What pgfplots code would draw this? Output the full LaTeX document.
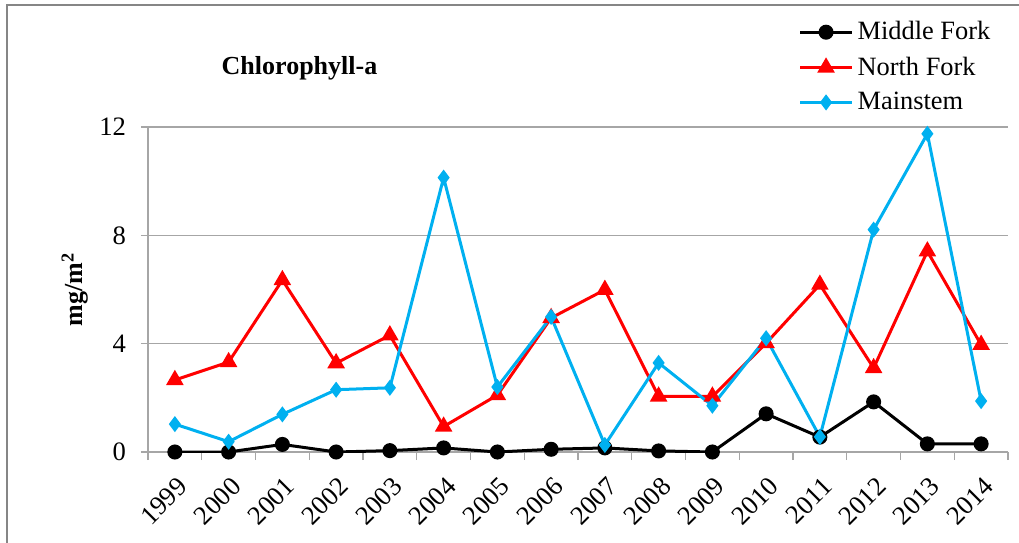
\documentclass[border=0pt]{standalone}
\usepackage{pgfplots}
\pgfplotsset{compat=1.18}
\usepackage{fontspec}
\setmainfont{Liberation Serif}

\begin{document}
\begin{tikzpicture}

\definecolor{msblue}{RGB}{0,176,240}
\definecolor{gridgray}{RGB}{166,166,166}
\definecolor{framegray}{RGB}{134,134,134}

% page = 1019x542 px at 0.5pt per px, axis origin at px (148,452)
\clip (-74pt,-45pt) rectangle (435.5pt,226pt);
\draw[framegray, line width=1.3pt] (-70.5pt,-80pt) rectangle (460pt,223.5pt);

\begin{axis}[
at={(0pt,0pt)}, anchor=south west,
width=430pt,
height=162.5pt,
scale only axis,
xmin=-0.5, xmax=15.5,
ymin=0, ymax=12,
xtick={0,...,15},
xticklabels={1999,2000,2001,2002,2003,2004,2005,2006,2007,2008,2009,2010,2011,2012,2013,2014},
minor xtick={-0.5,0.5,...,15.5},
major x tick style={draw=none},
ytick={0,4,8,12},
axis x line*=bottom,
axis y line*=left,
axis line style={gridgray, line width=0.7pt, -},
tick style={gridgray, line width=0.7pt},
tick align=outside,
major tick length=3.5pt,
minor tick length=4pt,
ymajorgrids,
grid style={gridgray, line width=0.7pt},
/pgf/number format/assume math mode=true,
tick label style={font=\fontsize{13.3}{15}\selectfont},
xticklabel style={rotate=45, anchor=north east, xshift=-2pt, yshift=-3pt},
yticklabel style={xshift=-4pt},
ylabel={\textbf{mg/m\textsuperscript{2}}},
ylabel style={at={(axis description cs:-0.085,0.5)}, anchor=center, font=\fontsize{13}{15}\selectfont},
legend cell align=left,
legend style={at={(0.756,1.338)}, anchor=north west, draw=none, fill=none,
  font=\fontsize{13.2}{15}\selectfont, row sep=3pt, inner sep=0pt},
legend image code/.code={\draw[mark repeat=2, mark phase=2] plot coordinates {(0pt,0pt) (13pt,0pt) (26pt,0pt)};},
]

\addplot [line width=1.5pt, black, mark=*, mark size=3pt, mark options={solid}]
table {%
0 0
1 0
2 0.28
3 0
4 0.05
5 0.15
6 0
7 0.1
8 0.15
9 0.04
10 0
11 1.41
12 0.55
13 1.85
14 0.3
15 0.3
};
\addlegendentry{Middle Fork}

\addplot [line width=1.5pt, red, mark=triangle*, mark size=3.6pt, mark options={solid}]
table {%
0 2.66
1 3.32
2 6.35
3 3.28
4 4.31
5 0.94
6 2.1
7 4.95
8 5.99
9 2.05
10 2.05
11 4.02
12 6.18
13 3.1
14 7.41
15 3.96
};
\addlegendentry{North Fork}

\addplot [line width=1.5pt, msblue, mark=diamond*, mark size=2.8pt, mark options={solid}]
table {%
0 1.03
1 0.38
2 1.39
3 2.3
4 2.37
5 10.13
6 2.4
7 4.99
8 0.26
9 3.29
10 1.71
11 4.2
12 0.56
13 8.21
14 11.75
15 1.88
};
\addlegendentry{Mainstem}

\end{axis}

\node[font=\bfseries\fontsize{13}{15}\selectfont, anchor=base] at (75.75pt,188.5pt) {Chlorophyll-a};

\end{tikzpicture}
\end{document}
